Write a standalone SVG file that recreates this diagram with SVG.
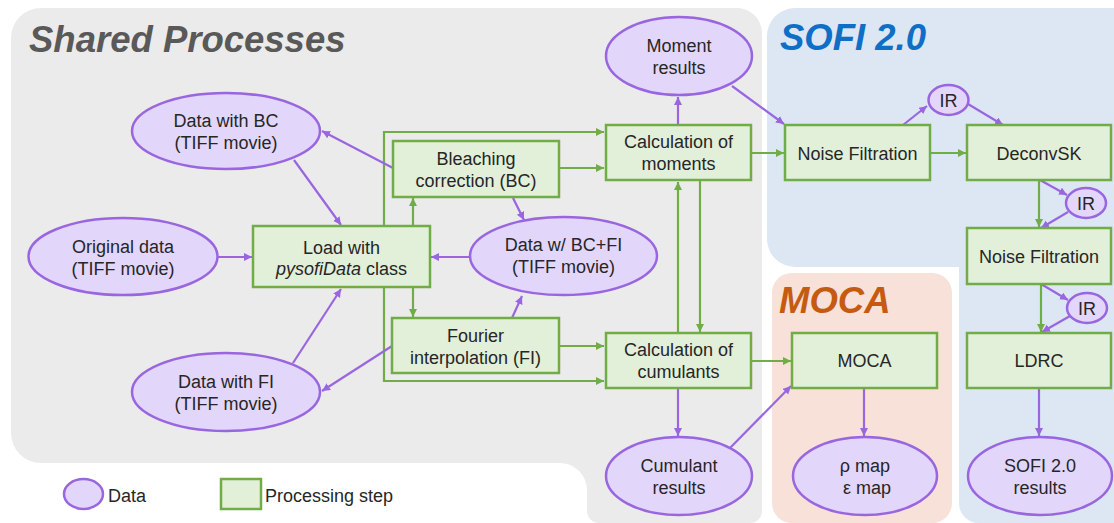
<svg xmlns="http://www.w3.org/2000/svg" width="1114" height="523" viewBox="0 0 1114 523">
<defs>
<marker id="ag" markerUnits="userSpaceOnUse" markerWidth="9" markerHeight="9" refX="8" refY="4" orient="auto"><path d="M0,0 L8,4 L0,8 z" fill="#70ad47"/></marker>
<marker id="ap" markerUnits="userSpaceOnUse" markerWidth="9" markerHeight="9" refX="8" refY="4" orient="auto"><path d="M0,0 L8,4 L0,8 z" fill="#9966e0"/></marker>
</defs>
<style>
.box{fill:#e2efd9;stroke:#70ad47;stroke-width:2.5}
.ell{fill:#e3d6fb;stroke:#9966e0;stroke-width:2.5}
.t{font-family:"Liberation Sans",Arial,sans-serif;font-size:18px;fill:#262626;text-anchor:middle}
.title{font-family:"Liberation Sans",Arial,sans-serif;font-size:36.5px;font-weight:bold;font-style:italic}
.g{fill:none;stroke:#70ad47;stroke-width:2.2;marker-end:url(#ag)}
.p{fill:none;stroke:#9966e0;stroke-width:2.2;marker-end:url(#ap)}
</style>
<rect width="1114" height="523" fill="#ffffff"/>
<g id="regions">
<path d="M41,8 H737 A25,25 0 0 1 762,33 V511 A12,12 0 0 1 750,523 H599 A12,12 0 0 1 587,511 V490 A27,27 0 0 0 560,463 H41 A30,30 0 0 1 11,433 V38 A30,30 0 0 1 41,8 Z" fill="#ebebeb"/>
<path d="M795,8 H1130 V267 H795 A28,28 0 0 1 767,239 V36 A28,28 0 0 1 795,8 Z" fill="#dde7f3"/>
<path d="M959,245 H1130 V523 H979 A20,20 0 0 1 959,503 Z" fill="#dde7f3"/>
<rect x="772" y="273" width="180" height="250" rx="20" fill="#f7e1d8"/>
<text class="title" x="29" y="52" fill="#595959">Shared Processes</text>
<text class="title" x="780" y="50" fill="#0f6fc6">SOFI 2.0</text>
<text class="title" x="779" y="313" fill="#c55a11">MOCA</text>
</g>
<g id="connectors">
<path class="g" d="M413,226 V198"/>
<path class="g" d="M413,288 V317"/>
<path class="g" d="M384,226 V132 H604"/>
<path class="g" d="M384,288 V381 H604"/>
<path class="g" d="M559,168 H604"/>
<path class="g" d="M559,346 H604"/>
<path class="g" d="M678,333 V182"/>
<path class="g" d="M700,181 V332"/>
<path class="g" d="M751,153 H784"/>
<path class="g" d="M751,361 H791"/>
<path class="g" d="M930,153 H966"/>
<path class="g" d="M1039,180 V227"/>
<path class="g" d="M1041,284 V332"/>
<path class="p" d="M678,125 V97"/>
<path class="p" d="M732,86 L784,124"/>
<path class="p" d="M903,125 L927,106"/>
<path class="p" d="M968,104 L1003,125"/>
<path class="p" d="M1040,180 L1067,195"/>
<path class="p" d="M1068,212 L1041,228"/>
<path class="p" d="M1041,284 L1068,300"/>
<path class="p" d="M1070,316 L1042,332"/>
<path class="p" d="M678,388 V436"/>
<path class="p" d="M730,448 L791,386"/>
<path class="p" d="M864,388 V436"/>
<path class="p" d="M1039,388 V436"/>
<path class="p" d="M393,168 L322,131"/>
<path class="p" d="M294,160 L341,225"/>
<path class="p" d="M218,257 H252"/>
<path class="p" d="M470,257 H431"/>
<path class="p" d="M513,198 L524,220"/>
<path class="p" d="M512,318 L522,296"/>
<path class="p" d="M392,346 L322,391"/>
<path class="p" d="M293,363 L341,289"/>
</g>
<g id="n-data-bc"><ellipse class="ell" cx="226" cy="131" rx="94" ry="38"/><text class="t" x="226" y="127">Data with BC</text><text class="t" x="226" y="149">(TIFF movie)</text></g>
<g id="n-original"><ellipse class="ell" cx="123" cy="256.5" rx="94.5" ry="38.5"/><text class="t" x="123" y="252.5">Original data</text><text class="t" x="123" y="274.5">(TIFF movie)</text></g>
<g id="n-data-fi"><ellipse class="ell" cx="226" cy="392" rx="94" ry="39"/><text class="t" x="226" y="388">Data with FI</text><text class="t" x="226" y="410">(TIFF movie)</text></g>
<g id="n-data-bcfi"><ellipse class="ell" cx="563.5" cy="256" rx="93.5" ry="39"/><text class="t" x="563.5" y="251">Data w/ BC+FI</text><text class="t" x="563.5" y="273">(TIFF movie)</text></g>
<g id="n-moment-results"><ellipse class="ell" cx="679" cy="56" rx="73" ry="39"/><text class="t" x="679" y="52">Moment</text><text class="t" x="679" y="74">results</text></g>
<g id="n-cumulant-results"><ellipse class="ell" cx="679" cy="476" rx="73" ry="39"/><text class="t" x="679" y="472">Cumulant</text><text class="t" x="679" y="494">results</text></g>
<g id="n-maps"><ellipse class="ell" cx="865" cy="476" rx="72" ry="39"/><text class="t" x="865" y="472">ρ map</text><text class="t" x="867" y="494">ε map</text></g>
<g id="n-sofi-results"><ellipse class="ell" cx="1040" cy="476" rx="72" ry="39"/><text class="t" x="1040" y="472">SOFI 2.0</text><text class="t" x="1040" y="494">results</text></g>
<g id="n-ir1"><ellipse class="ell" cx="948.5" cy="100" rx="20" ry="15"/><text class="t" x="948.5" y="106.5">IR</text></g>
<g id="n-ir2"><ellipse class="ell" cx="1086" cy="203" rx="20" ry="15"/><text class="t" x="1086" y="209.5">IR</text></g>
<g id="n-ir3"><ellipse class="ell" cx="1087" cy="308" rx="20" ry="15"/><text class="t" x="1087" y="314.5">IR</text></g>
<g id="n-load"><rect class="box" x="253" y="226" width="177" height="61"/><text class="t" x="341.5" y="253.5">Load with</text><text class="t" x="341.5" y="275"><tspan font-style="italic">pysofiData</tspan> class</text></g>
<g id="n-bc"><rect class="box" x="393" y="141" width="166" height="56"/><text class="t" x="476" y="165">Bleaching</text><text class="t" x="476" y="187">correction (BC)</text></g>
<g id="n-fi"><rect class="box" x="392" y="318" width="167" height="55"/><text class="t" x="475.5" y="341.5">Fourier</text><text class="t" x="475.5" y="363.5">interpolation (FI)</text></g>
<g id="n-calc-moments"><rect class="box" x="606" y="125" width="145" height="55"/><text class="t" x="678.5" y="148">Calculation of</text><text class="t" x="678.5" y="170">moments</text></g>
<g id="n-calc-cumulants"><rect class="box" x="606" y="333" width="145" height="55"/><text class="t" x="678.5" y="356">Calculation of</text><text class="t" x="678.5" y="378">cumulants</text></g>
<g id="n-noise1"><rect class="box" x="785" y="125" width="145" height="55"/><text class="t" x="857.5" y="159.5">Noise Filtration</text></g>
<g id="n-deconvsk"><rect class="box" x="967" y="125" width="144" height="55"/><text class="t" x="1039" y="159.5">DeconvSK</text></g>
<g id="n-noise2"><rect class="box" x="967" y="228" width="144" height="56"/><text class="t" x="1039" y="263">Noise Filtration</text></g>
<g id="n-moca"><rect class="box" x="792" y="333" width="145" height="55"/><text class="t" x="864.5" y="367">MOCA</text></g>
<g id="n-ldrc"><rect class="box" x="967" y="333" width="144" height="55"/><text class="t" x="1039" y="367">LDRC</text></g>
<g id="legend">
<ellipse class="ell" cx="83.5" cy="494" rx="19.5" ry="15"/>
<text class="t" x="108" y="502" style="text-anchor:start">Data</text>
<rect class="box" x="221" y="479" width="40" height="30"/>
<text class="t" x="265" y="502" style="text-anchor:start">Processing step</text>
</g>
</svg>
